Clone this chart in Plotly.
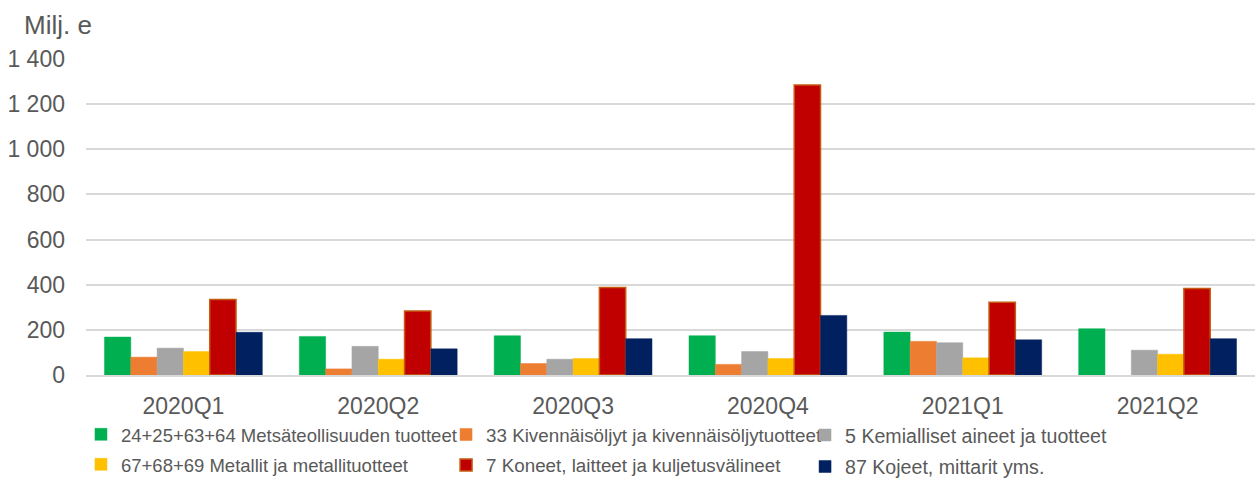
import plotly.graph_objects as go

categories = ["2020Q1", "2020Q2", "2020Q3", "2020Q4", "2021Q1", "2021Q2"]
series_names = [
    "24+25+63+64 Metsäteollisuuden tuotteet",
    "33 Kivennäisöljyt ja kivennäisöljytuotteet",
    "5 Kemialliset aineet ja tuotteet",
    "67+68+69 Metallit ja metallituotteet",
    "7 Koneet, laitteet ja kuljetusvälineet",
    "87 Kojeet, mittarit yms.",
]
metsa = [168, 171, 174, 174, 190, 205]
kivennais = [79, 27, 51, 47, 149, None]
kemialliset = [119, 127, 70, 104, 143, 110]
metallit = [104, 70, 73, 73, 76, 92]
koneet = [335, 284, 388, 1285, 322, 383]
kojeet = [189, 116, 161, 264, 156, 161]
y_ticks = [0, 200, 400, 600, 800, 1000, 1200, 1400]

values = [metsa, kivennais, kemialliset, metallit, koneet, kojeet]
colors = ["#00B050", "#ED7D31", "#A5A5A5", "#FFC000", "#C00000", "#002060"]
line_colors = ["#00B050", "#ED7D31", "#A5A5A5", "#FFC000", "#C55A11", "#002060"]
legends = ["legend", "legend2", "legend3", "legend", "legend2", "legend3"]

fig = go.Figure()
for i, (name, vals, c, lc, lg) in enumerate(zip(series_names, values, colors, line_colors, legends)):
    fig.add_trace(go.Bar(
        x=categories, y=vals, name=name, legend=lg, legendgroup="g%d" % i,
        marker=dict(color=c, line=dict(color=lc, width=1.5 if lc != c else 0.5)),
    ))

font_color = "#595959"


def leg(x, size):
    return dict(
        orientation="v", yanchor="top", xanchor="left", yref="container", y=0.132,
        x=x,
        font=dict(family="Liberation Sans, Arial", size=size, color=font_color),
        bgcolor="rgba(0,0,0,0)", tracegroupgap=3, itemwidth=30,
        traceorder="grouped",
    )


fig.update_layout(
    width=1257, height=479,
    margin=dict(l=86, r=2, t=59, b=104, autoexpand=False),
    paper_bgcolor="white", plot_bgcolor="white",
    barmode="group", bargap=0.19, bargroupgap=0,
    separators=", ",
    font=dict(family="Liberation Sans, Arial", color=font_color, size=23),
    legend=leg(-0.0043, 18.5),
    legend2=leg(0.3080, 18.8),
    legend3=leg(0.6151, 19.6),
    showlegend=True,
    xaxis=dict(
        showline=True, linecolor="#D9D9D9", linewidth=2,
        ticks="", tickfont=dict(size=23, color=font_color),
        ticklabelstandoff=9,
    ),
    yaxis=dict(
        range=[0, 1400], tickvals=y_ticks, tickformat=",d",
        showgrid=True, gridcolor="#D9D9D9", gridwidth=1.5,
        zeroline=False, showline=False,
        tickfont=dict(size=23, color=font_color),
        ticklabelstandoff=20,
    ),
    annotations=[dict(
        text="Milj. e", xref="paper", yref="paper", x=-0.0547, y=1.1076,
        xanchor="left", yanchor="middle", showarrow=False,
        font=dict(size=26, color=font_color, family="Liberation Sans, Arial"),
    )],
)

fig.write_html(
    "out.html",
    config={"displayModeBar": False},
    post_script="document.body.style.margin='0';document.body.style.overflow='hidden';",
)
